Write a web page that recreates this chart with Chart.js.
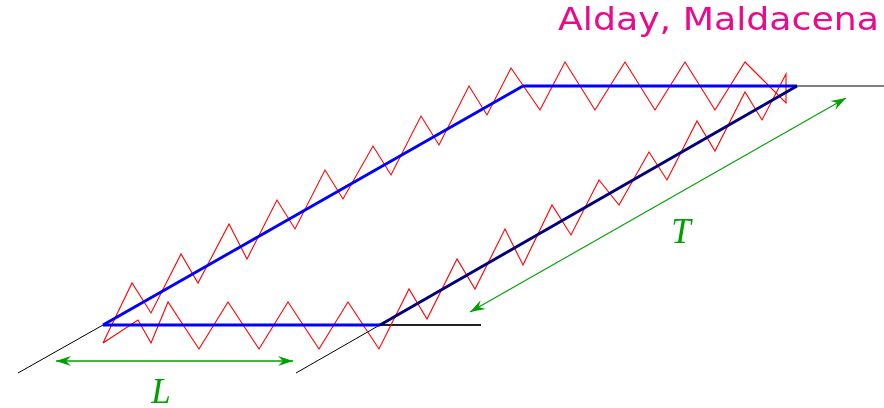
<!DOCTYPE html>
<html>
<head>
<meta charset="utf-8">
<script src="https://cdn.jsdelivr.net/npm/chart.js@4.4.1/dist/chart.umd.min.js"></script>
<style>
  html, body { margin: 0; padding: 0; background: #ffffff; }
  #wrap { width: 884px; height: 408px; }
</style>
</head>
<body>
<div id="wrap"><canvas id="c" width="884" height="408"></canvas></div>
<script>
// Wilson loop diagram: blue parallelogram contour, red zigzag gluon string,
// black world-lines and green dimension arrows (L, T).

// contour edges
const loopLeft   = [[103, 325], [523, 86]];
const loopTop    = [[523, 86], [797, 86]];
const loopBottom = [[103, 325], [380, 325]];
const loopRight  = [[380, 325], [797, 86]];

// world-lines
const lineLowerLeft  = [[18, 373], [103, 325]];
const lineLowerRight = [[296, 373], [797, 86]];
const lineBottomTail = [[380, 325], [481, 325]];
const lineTopTail    = [[797, 86], [884, 86]];

// zigzag string, traced as one closed path
const zigLeft = [[103, 343], [132, 283], [151, 313], [181, 254], [198, 283], [229, 224],
  [247, 259], [277, 200], [295, 229], [325, 170], [343, 199], [373, 146], [391, 175],
  [421, 116], [439, 145], [469, 86], [487, 115]];
const zigTop = [[487, 115], [511, 68], [540, 110], [565, 62], [595, 110], [625, 62],
  [655, 110], [685, 62], [715, 110], [745, 62]];
const zigCorner = [[745, 62], [786, 103], [786, 74], [762, 120]];
const zigRight = [[762, 120], [745, 92], [715, 151], [697, 121], [667, 180], [649, 152],
  [619, 205], [599, 180], [571, 235], [552, 205], [523, 265], [505, 229], [475, 289],
  [457, 259], [427, 319], [409, 289], [379, 349]];
const zigBottom = [[379, 349], [348, 302], [319, 349], [288, 302], [259, 349], [228, 302],
  [199, 349], [168, 302], [151, 343], [138, 320], [103, 343]];

// dimension arrows (both ends headed)
const arrowL = [[56, 361], [293, 361]];
const arrowT = [[470, 312], [846, 98]];

// labels
const labelTexts   = ['L', 'T', 'Alday, Maldacena'];
const labelAnchors = [[161, 403], [681, 243], [879, 30]];

const pts = a => a.map(p => ({ x: p[0], y: p[1] }));

function seg(data, color, width, order) {
  return {
    data: pts(data), showLine: true, borderColor: color, borderWidth: width,
    pointRadius: 0, pointHoverRadius: 0, fill: false, tension: 0, order: order,
    borderJoinStyle: 'miter', borderCapStyle: 'butt'
  };
}

const GREEN = '#00a000';
const MAGENTA = '#ea0a8c';

const datasets = [
  seg(arrowL, GREEN, 1.3, 0),
  seg(arrowT, GREEN, 1.1, 0),
  seg(loopRight, '#00007c', 3, 1),
  seg(loopLeft, '#0000ff', 3, 1),
  seg(loopTop, '#0000ff', 3, 1),
  seg(loopBottom, '#0000ff', 3, 1),
  seg([...zigLeft, ...zigTop.slice(1), ...zigCorner.slice(1), ...zigRight.slice(1), ...zigBottom.slice(1)], '#ff0000', 1.1, 2),
  seg(lineLowerLeft, '#000000', 1, 3),
  seg(lineLowerRight, '#000000', 1, 3),
  seg(lineBottomTail, '#222222', 2, 3),
  seg(lineTopTail, '#555555', 1.3, 3)
];

// arrowheads and text, placed through the chart scales
const decorations = {
  id: 'decorations',
  afterDatasetsDraw(chart) {
    const { ctx, scales: { x, y } } = chart;
    const px = p => [x.getPixelForValue(p[0]), y.getPixelForValue(p[1])];

    function head(tip, from) {
      const [tx, ty] = px(tip), [fx, fy] = px(from);
      const ang = Math.atan2(ty - fy, tx - fx);
      const len = 15, half = 5, notch = 10;
      const c = Math.cos(ang), s = Math.sin(ang);
      ctx.beginPath();
      ctx.moveTo(tx, ty);
      ctx.lineTo(tx - len * c - half * s, ty - len * s + half * c);
      ctx.lineTo(tx - notch * c, ty - notch * s);
      ctx.lineTo(tx - len * c + half * s, ty - len * s - half * c);
      ctx.closePath();
      ctx.fillStyle = GREEN;
      ctx.fill();
    }
    ctx.save();
    [arrowL, arrowT].forEach(a => { head(a[0], a[1]); head(a[1], a[0]); });

    // math labels
    ctx.fillStyle = GREEN;
    ctx.textBaseline = 'alphabetic';
    ctx.textAlign = 'center';
    ctx.font = 'italic 35px "Liberation Serif", "DejaVu Serif", serif';
    for (let i = 0; i < 2; i++) {
      const [lx, ly] = px(labelAnchors[i]);
      ctx.fillText(labelTexts[i], lx, ly);
    }

    // author credit, right aligned, fitted to its 320px span
    const [ax, ay] = px(labelAnchors[2]);
    ctx.font = '32px "DejaVu Sans", sans-serif';
    ctx.fillStyle = MAGENTA;
    const w = ctx.measureText(labelTexts[2]).width;
    const sx = 321 / w;
    ctx.translate(ax, ay);
    ctx.scale(sx, 1);
    ctx.textAlign = 'right';
    ctx.fillText(labelTexts[2], 0, 0);
    ctx.restore();
  }
};

new Chart(document.getElementById('c'), {
  type: 'scatter',
  data: { datasets },
  options: {
    responsive: false,
    animation: false,
    layout: { padding: 0 },
    plugins: { legend: { display: false }, tooltip: { enabled: false }, title: { display: false } },
    scales: {
      x: { type: 'linear', min: 0, max: 884, display: false },
      y: { type: 'linear', min: 0, max: 408, reverse: true, display: false }
    },
    elements: { line: { borderJoinStyle: 'miter' } }
  },
  plugins: [decorations]
});
</script>
</body>
</html>
